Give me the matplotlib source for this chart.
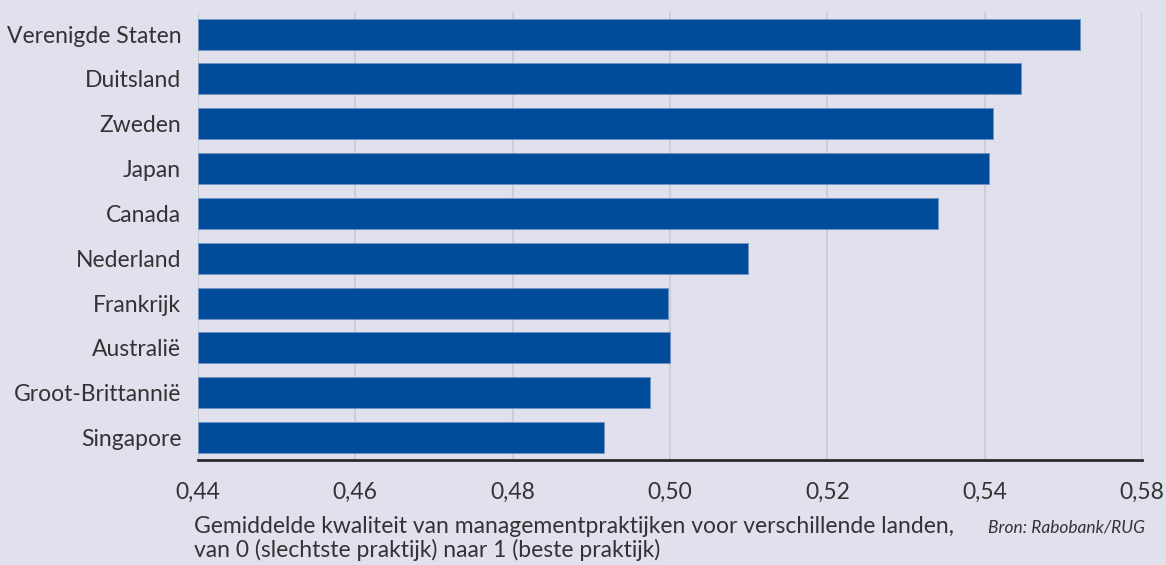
import matplotlib.pyplot as plt
from matplotlib.ticker import FixedLocator

# data, top to bottom as in the chart
countries = ["Verenigde Staten", "Duitsland", "Zweden", "Japan", "Canada",
             "Nederland", "Frankrijk", "Australië", "Groot-Brittannië", "Singapore"]
scores = [0.5521, 0.5446, 0.5411, 0.5405, 0.5341,
          0.5099, 0.4998, 0.5000, 0.4975, 0.4916]

# the original axis labels its last gridline "0,58"
tick_values = [0.44, 0.46, 0.48, 0.50, 0.52, 0.54, 0.56]
tick_labels = ["0,44", "0,46", "0,48", "0,50", "0,52", "0,54", "0,58"]

BG = "#e1e1ee"
BAR = "#004c9a"
TEXT = "#333333"

plt.rcParams['font.family'] = ['Lato', 'DejaVu Sans']

fig = plt.figure(figsize=(11.66, 5.65), dpi=100, facecolor=BG)
ax = fig.add_axes([0.1698, 0.1858, 0.8096, 0.7935], facecolor=BG)

y = list(range(len(countries)))
ax.barh(y, [s - 0.44 for s in scores], left=0.44, height=0.69,
        color=BAR, edgecolor="#6f93c6", linewidth=0.6, zorder=3)

ax.set_ylim(len(countries) - 0.5, -0.5)
ax.set_xlim(0.44, 0.56)
ax.xaxis.set_major_locator(FixedLocator(tick_values))
ax.set_xticklabels(tick_labels)
ax.set_yticks(y)
ax.set_yticklabels(countries)

ax.grid(axis="x", color="#cdcdd5", linewidth=1.5, zorder=0)
for side in ["left", "right", "top"]:
    ax.spines[side].set_visible(False)
ax.spines["bottom"].set_color("#2b2b2b")
ax.spines["bottom"].set_linewidth(2)
ax.tick_params(axis="x", length=0, pad=16, labelsize=16.5, labelcolor=TEXT)
ax.tick_params(axis="y", length=0, pad=12, labelsize=16.5, labelcolor=TEXT)

fig.text(0.166, 0.047,
         "Gemiddelde kwaliteit van managementpraktijken voor verschillende landen,\n"
         "van 0 (slechtste praktijk) naar 1 (beste praktijk)",
         fontsize=16.5, color=TEXT, ha="left", va="center", linespacing=1.15)
fig.text(0.982, 0.067, "Bron: Rabobank/RUG", fontsize=12.5, style="italic",
         color=TEXT, ha="right", va="center")

fig.savefig("out.png", dpi=100, facecolor=BG)
